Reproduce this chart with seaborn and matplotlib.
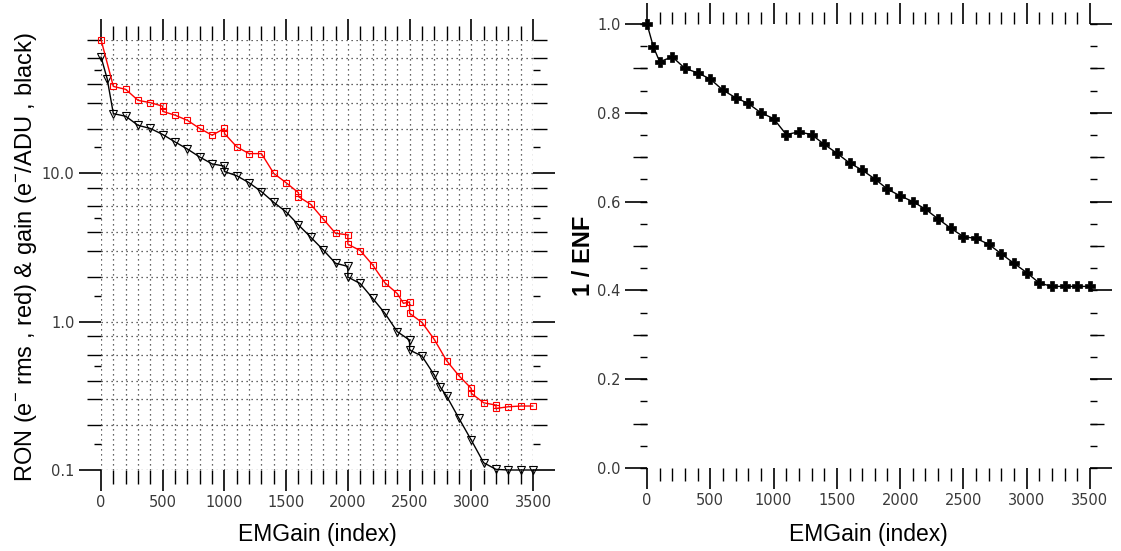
import numpy as np
import pandas as pd
import matplotlib
matplotlib.use("Agg")
import matplotlib.pyplot as plt
import seaborn as sns
from matplotlib.ticker import FixedLocator, FixedFormatter, NullLocator, MultipleLocator

# ---------------- data ----------------
gain_x = [0, 50, 100, 200, 300, 400, 500, 600, 700, 800, 900, 1000, 1000, 1100, 1200,
          1300, 1400, 1500, 1600, 1700, 1800, 1900, 2000, 2000, 2100, 2200, 2300, 2400,
          2500, 2500, 2600, 2700, 2750, 2800, 2900, 3000, 3100, 3200, 3300, 3400, 3500]
gain_y = [61, 43.5, 25.3, 24.3, 21.1, 20.1, 18.3, 16.3, 14.6, 12.9, 11.6, 11.2, 10.3, 9.64,
          8.65, 7.53, 6.38, 5.50, 4.49, 3.71, 3.05, 2.48, 2.36, 2.0, 1.81, 1.44, 1.14, 0.857,
          0.752, 0.644, 0.587, 0.437, 0.361, 0.315, 0.223, 0.159, 0.112, 0.101, 0.1, 0.1, 0.1]

ron_x = [0, 100, 200, 300, 400, 500, 500, 600, 700, 800, 900, 1000, 1000, 1100, 1200, 1300,
         1400, 1500, 1600, 1600, 1700, 1800, 1900, 2000, 2000, 2100, 2200, 2300, 2400, 2450,
         2500, 2500, 2600, 2700, 2800, 2900, 3000, 3000, 3100, 3200, 3200, 3300, 3400, 3500]
ron_y = [80, 38.6, 36.9, 31.1, 30.0, 28.4, 26.2, 24.7, 22.8, 20.1, 18.1, 20.1, 18.6, 15.1,
         13.6, 13.6, 10.0, 8.65, 7.41, 6.97, 6.18, 4.93, 3.95, 3.85, 3.33, 3.02, 2.42, 1.83,
         1.55, 1.33, 1.36, 1.14, 0.99, 0.76, 0.546, 0.432, 0.355, 0.329, 0.284, 0.274, 0.26,
         0.267, 0.27, 0.27]

enf_x = [0, 50, 100, 200, 300, 400, 500, 600, 700, 800, 900, 1000, 1100, 1200, 1300, 1400,
         1500, 1600, 1700, 1800, 1900, 2000, 2100, 2200, 2300, 2400, 2500, 2600, 2700, 2800,
         2900, 3000, 3100, 3200, 3300, 3400, 3500]
enf_y = [1.0, 0.949, 0.915, 0.926, 0.900, 0.890, 0.876, 0.851, 0.834, 0.821, 0.800, 0.787,
         0.751, 0.757, 0.751, 0.729, 0.709, 0.687, 0.671, 0.651, 0.628, 0.613, 0.600, 0.583,
         0.561, 0.540, 0.521, 0.517, 0.504, 0.482, 0.461, 0.440, 0.4165, 0.409, 0.409, 0.409,
         0.409]

x_major = [0, 500, 1000, 1500, 2000, 2500, 3000, 3500]
x_labels = ["0", "500", "1000", "1500", "2000", "2500", "3000", "3500"]
log_major = [0.1, 1.0, 10.0]
log_labels = ["0.1", "1.0", "10.0"]
log_minor = [0.2, 0.3, 0.4, 0.6, 0.8, 2, 3, 4, 6, 8, 20, 30, 40, 60, 80]
log_short = [0.15, 0.5, 1.5, 5, 15, 50]
lin_major = [0.0, 0.2, 0.4, 0.6, 0.8, 1.0]
lin_labels = ["0.0", "0.2", "0.4", "0.6", "0.8", "1.0"]

xlabel = "EMGain (index)"
ylabel_left = "RON (e$^{-}$ rms , red) & gain (e$^{-}$/ADU , black)"
ylabel_right = "1 / ENF"

# ---------------- style ----------------
sns.set_style("white")
plt.rcParams["font.family"] = ["DejaVu Sans"]
plt.rcParams["mathtext.fontset"] = "custom"
plt.rcParams["mathtext.rm"] = "Liberation Sans"
plt.rcParams["mathtext.it"] = "Liberation Sans:italic"
plt.rcParams["mathtext.bf"] = "Liberation Sans:bold"
plt.rcParams["mathtext.sf"] = "Liberation Sans"
plt.rcParams["mathtext.default"] = "regular"

W, H = 1121, 551
fig = plt.figure(figsize=(W / 100, H / 100), dpi=100)


def rect(x0, y0, x1, y1):
    return [x0 / W, 1 - y1 / H, (x1 - x0) / W, (y1 - y0) / H]


lab_font = ["Liberation Sans", "DejaVu Sans"]
tick_col = "#3a3a3a"

# ---------------- left panel ----------------
pos1 = rect(101, 39.5, 533, 470)
ax1 = fig.add_axes(pos1)
ax1.set_yscale("log")
df_gain = pd.DataFrame({"x": gain_x, "y": gain_y})
df_ron = pd.DataFrame({"x": ron_x, "y": ron_y})
sns.lineplot(data=df_gain, x="x", y="y", ax=ax1, estimator=None, sort=False,
             color="black", linewidth=1.0, marker="v", markersize=6,
             markerfacecolor="none", markeredgecolor="black", markeredgewidth=0.8,
             clip_on=False, zorder=4)
sns.lineplot(data=df_ron, x="x", y="y", ax=ax1, estimator=None, sort=False,
             color="#ff0000", linewidth=1.0, marker="s", markersize=5,
             markerfacecolor="none", markeredgecolor="#ff0000", markeredgewidth=0.8,
             clip_on=False, zorder=5)
ax1.set_xlim(0, 3500)
ax1.set_ylim(0.1, 80)
ax1.set_xlabel("")
ax1.set_ylabel("")
ax1.xaxis.set_major_locator(FixedLocator(x_major))
ax1.xaxis.set_major_formatter(FixedFormatter(x_labels))
ax1.xaxis.set_minor_locator(MultipleLocator(100))
ax1.yaxis.set_major_locator(FixedLocator(log_major))
ax1.yaxis.set_major_formatter(FixedFormatter(log_labels))
ax1.yaxis.set_minor_locator(FixedLocator(log_minor))
ax1.yaxis.set_minor_formatter(FixedFormatter([""] * len(log_minor)))
ax1.grid(True, which="both", axis="both", linestyle=(0, (1, 3)), color="#333333",
         linewidth=0.9)
for s in ax1.spines.values():
    s.set_visible(False)
ax1.tick_params(axis="x", which="major", direction="out", length=15, width=1.2,
                bottom=True, top=True, labelsize=10.5, labelcolor=tick_col, pad=3,
                color="black")
ax1.tick_params(axis="x", which="minor", direction="out", length=10, width=1.0,
                bottom=True, top=True, color="black")
ax1.tick_params(axis="y", which="major", direction="out", length=16, width=1.2,
                left=True, right=True, labelsize=10.5, labelcolor=tick_col, pad=3,
                color="black")
ax1.tick_params(axis="y", which="minor", direction="out", length=10, width=1.0,
                left=True, right=True, color="black")

ax1s = fig.add_axes(pos1)
ax1s.set_yscale("log")
ax1s.set_xlim(0, 3500)
ax1s.set_ylim(0.1, 80)
ax1s.patch.set_visible(False)
for s in ax1s.spines.values():
    s.set_visible(False)
ax1s.xaxis.set_major_locator(NullLocator())
ax1s.xaxis.set_minor_locator(NullLocator())
ax1s.yaxis.set_major_locator(FixedLocator(log_short))
ax1s.yaxis.set_major_formatter(FixedFormatter([""] * len(log_short)))
ax1s.yaxis.set_minor_locator(NullLocator())
ax1s.tick_params(axis="y", which="major", direction="out", length=5, width=1.0,
                 left=True, right=True, color="black")

# ---------------- right panel ----------------
pos2 = rect(647, 24, 1090, 468)
ax2 = fig.add_axes(pos2)
df_enf = pd.DataFrame({"x": enf_x, "y": enf_y})
sns.lineplot(data=df_enf, x="x", y="y", ax=ax2, estimator=None, sort=False,
             color="black", linewidth=1.0, marker="P", markersize=6.5,
             markerfacecolor="black", markeredgecolor="black", markeredgewidth=0.5,
             clip_on=False, zorder=4)
ax2.set_xlim(0, 3500)
ax2.set_ylim(0.0, 1.0)
ax2.set_xlabel("")
ax2.set_ylabel("")
ax2.xaxis.set_major_locator(FixedLocator(x_major))
ax2.xaxis.set_major_formatter(FixedFormatter(x_labels))
ax2.xaxis.set_minor_locator(MultipleLocator(100))
ax2.yaxis.set_major_locator(FixedLocator(lin_major))
ax2.yaxis.set_major_formatter(FixedFormatter(lin_labels))
ax2.yaxis.set_minor_locator(MultipleLocator(0.1))
for s in ax2.spines.values():
    s.set_visible(False)
ax2.tick_params(axis="x", which="major", direction="out", length=15, width=1.2,
                bottom=True, top=True, labelsize=10.5, labelcolor=tick_col, pad=3,
                color="black")
ax2.tick_params(axis="x", which="minor", direction="out", length=9, width=1.0,
                bottom=True, top=True, color="black")
ax2.tick_params(axis="y", which="major", direction="out", length=16, width=1.2,
                left=True, right=True, labelsize=10.5, labelcolor=tick_col, pad=3,
                color="black")
ax2.tick_params(axis="y", which="minor", direction="out", length=10, width=1.0,
                left=True, right=True, color="black")

ax2s = fig.add_axes(pos2)
ax2s.set_xlim(0, 3500)
ax2s.set_ylim(0.0, 1.0)
ax2s.patch.set_visible(False)
for s in ax2s.spines.values():
    s.set_visible(False)
ax2s.xaxis.set_major_locator(NullLocator())
ax2s.xaxis.set_minor_locator(NullLocator())
ax2s.yaxis.set_major_locator(MultipleLocator(0.05))
ax2s.yaxis.set_major_formatter(FixedFormatter([""] * 30))
ax2s.yaxis.set_minor_locator(NullLocator())
ax2s.tick_params(axis="y", which="major", direction="out", length=5, width=1.0,
                 left=True, right=True, color="black")

# ---------------- axis titles ----------------
fig.text(26 / W, 1 - 257 / H, ylabel_left, rotation=90, ha="center", va="center",
         fontsize=17, family=lab_font, color="black")
fig.text(317 / W, 1 - 535 / H, xlabel, ha="center", va="center",
         fontsize=16.5, family=lab_font, color="black")
fig.text(584 / W, 1 - 256 / H, ylabel_right, rotation=90, ha="center", va="center",
         fontsize=17, family=lab_font, fontweight="bold", color="black")
fig.text(868 / W, 1 - 535 / H, xlabel, ha="center", va="center",
         fontsize=16.5, family=lab_font, color="black")

fig.savefig("out.png", dpi=100, facecolor="white")
